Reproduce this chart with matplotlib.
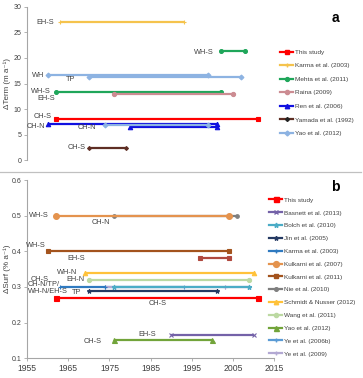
import matplotlib
matplotlib.use("Agg")
import matplotlib.pyplot as plt
from matplotlib.lines import Line2D

plt.rcParams["font.family"] = ["Liberation Sans", "DejaVu Sans"]

# ---------------- Panel a data: (start year, end year, value) ----------------
a_this_study = [(1962, 2011, 8.0)]
a_karma = [(1963, 1993, 27.0)]
a_mehta = [(2002, 2008, 21.3), (1962, 2002, 13.4)]
a_raina = [(1976, 2005, 13.0)]
a_ren = [(1960, 2001, 7.0), (1980, 2001, 6.4)]
a_yamada = [(1970, 1979, 2.4)]
a_yao = [(1960, 1999, 16.6), (1970, 2007, 16.3), (1974, 1999, 6.9)]

a_names = ["This study", "Karma et al. (2003)", "Mehta et al. (2011)", "Raina (2009)",
           "Ren et al. (2006)", "Yamada et al. (1992)", "Yao et al. (2012)"]

a_labels = ["EH-S", "WH-S", "WH", "TP", "WH-S", "EH-S", "CH-S", "CH-N", "CH-N", "CH-S"]
a_label_x = [1961.5, 2000.3, 1959.2, 1965.7, 1960.8, 1961.8, 1961.0, 1959.3, 1971.8, 1969.2]
a_label_y = [27.0, 21.0, 16.6, 15.8, 13.4, 12.1, 8.6, 6.6, 6.4, 2.4]

# ---------------- Panel b data ----------------
b_this_study = [(1962, 2011, 0.27)]
b_basnett = [(1990, 2010, 0.165)]
b_bolch = [(1976, 2009, 0.30)]
b_jin = [(1970, 2001, 0.29)]
b_karma = [(1963, 1974, 0.30)]
b_kulkarni07 = [(1962, 2004, 0.50)]
b_kulkarni11 = [(1960, 2004, 0.40)]
b_kulkarni11_eh = [(1997, 2004, 0.38)]
b_nie = [(1976, 2006, 0.50)]
b_schmidt = [(1969, 2010, 0.34)]
b_wang = [(1970, 2009, 0.32)]
b_yao = [(1976, 2000, 0.15)]
b_ye06 = [(1974, 1993, 0.30)]
b_ye09 = [(1974, 2003, 0.30), (2003, 2009, 0.30)]

b_names = ["This study", "Basnett et al. (2013)", "Bolch et al. (2010)", "Jin et al. (2005)",
           "Karma et al. (2003)", "Kulkarni et al. (2007)", "Kulkarni et al. (2011)",
           "Nie et al. (2010)", "Schmidt & Nusser (2012)", "Wang et al. (2011)",
           "Yao et al. (2012)", "Ye et al. (2006b)", "Ye et al. (2009)"]

b_labels = ["WH-S", "CH-N", "WH-S", "EH-S", "WH-N", "CH-S", "EH-N", "CH-N/TP/",
            "WH-N/EH-S", "TP", "CH-S", "EH-S", "CH-S"]
b_label_x = [1960.3, 1973.0, 1959.6, 1966.9, 1967.2, 1958.1, 1968.9, 1955.1,
             1955.3, 1967.0, 1986.8, 1984.1, 1970.9]
b_label_y = [0.50, 0.481, 0.415, 0.380, 0.341, 0.322, 0.321, 0.307,
             0.287, 0.285, 0.253, 0.166, 0.148]
b_label_ha = ["right", "center", "right", "center", "right", "center", "right", "left",
              "left", "center", "center", "center", "center"]

xticks = [1955, 1965, 1975, 1985, 1995, 2005, 2015]

fig = plt.figure(figsize=(3.63, 3.78), dpi=100)
fig.patch.set_facecolor("white")
txtc = "#404040"
spc = "#a6a6a6"
fs = 5.3
legfont = {"family": ["Liberation Sans", "DejaVu Sans"], "size": 4.6}


def draw(ax, segs, color, marker, ms, lw=1.6, mew=0.8, zorder=3):
    for s, e, v in segs:
        ax.plot([s, e], [v, v], color=color, lw=lw, marker=marker, ms=ms,
                mew=mew, mec=color, mfc=color, zorder=zorder, solid_capstyle="butt")


def style(ax):
    for sp in ["top", "right"]:
        ax.spines[sp].set_visible(False)
    ax.spines["left"].set_color(spc)
    ax.spines["bottom"].set_color(spc)
    ax.tick_params(colors=txtc, labelsize=5.0, length=2.2, width=0.6, color=spc, pad=1.8)


# ---------------- Panel a ----------------
axa = fig.add_axes([0.0744, 0.5767, 0.6810, 0.4048])
style(axa)
axa.spines["bottom"].set_visible(False)
axa.set_xlim(1955, 2015)
axa.set_ylim(0, 30)
axa.set_yticks([0, 5, 10, 15, 20, 25, 30])
axa.set_xticks([])
axa.set_ylabel("ΔTerm (m a⁻¹)", fontsize=5.8, color=txtc)
axa.yaxis.set_label_coords(-0.066, 0.5)

a_styles = [
    (a_this_study, "#ff0000", "s", 3.2),
    (a_karma, "#f5c34d", "+", 3.0),
    (a_mehta, "#1fa65a", "o", 2.8),
    (a_raina, "#cc8c92", "o", 3.0),
    (a_ren, "#1010e0", "^", 3.2),
    (a_yamada, "#5e2e24", "D", 2.0),
    (a_yao, "#8db3e2", "D", 2.5),
]
handles_a = []
for (segs, c, m, ms), name in zip(a_styles, a_names):
    draw(axa, segs, c, m, ms)
    mc = "#222222" if name.startswith("Yamada") else c
    handles_a.append(Line2D([0], [0], color=c, lw=1.6, marker=m, ms=ms, mec=mc, mfc=mc))

for t, x, y in zip(a_labels, a_label_x, a_label_y):
    axa.text(x, y, t, fontsize=fs, color=txtc, ha="right" if t != "TP" else "center",
             va="center")
fig.text(335 / 363, 1 - 18 / 378, "a", fontsize=10, fontweight="bold", color="black",
         ha="center", va="center")

fig.legend(handles_a, a_names, loc="upper left", bbox_to_anchor=(0.764, 0.876),
           frameon=False, prop=legfont, handlelength=2.1, handletextpad=0.3,
           labelspacing=1.26, borderaxespad=0, labelcolor=txtc)

# separator line
fig.add_artist(Line2D([0.0, 0.995], [1 - 172 / 378, 1 - 172 / 378],
                      transform=fig.transFigure, color="#c0c0c0", lw=0.9))

# ---------------- Panel b ----------------
axb = fig.add_axes([0.0744, 0.0521, 0.6810, 0.4717])
style(axb)
axb.set_xlim(1955, 2015)
axb.set_ylim(0.1, 0.6)
axb.set_yticks([0.1, 0.2, 0.3, 0.4, 0.5, 0.6])
axb.set_yticklabels(["0.1", "0.2", "0.3", "0.4", "0.5", "0.6"])
axb.set_xticks(xticks)
axb.tick_params(axis="x", labelsize=6.2)
axb.set_ylabel("ΔSurf (% a⁻¹)", fontsize=5.8, color=txtc)
axb.yaxis.set_label_coords(-0.066, 0.5)

b_styles = [
    (b_this_study, "#ff0000", "s", 3.6, 4),
    (b_basnett, "#7462a8", "x", 3.2, 3),
    (b_bolch, "#4bacc6", "*", 3.5, 3),
    (b_jin, "#253a63", "*", 3.2, 3),
    (b_karma, "#2f7ac0", "+", 3.0, 3),
    (b_kulkarni07, "#e4934e", "o", 4.2, 3),
    (b_kulkarni11, "#a3531d", "s", 3.0, 3),
    (b_nie, "#7f7f7f", "o", 2.6, 2),
    (b_schmidt, "#ffc23a", "^", 3.2, 3),
    (b_wang, "#bcd9a2", "o", 3.0, 3),
    (b_yao, "#72a43a", "^", 3.6, 3),
    (b_ye06, "#5b9bd5", "+", 3.0, 2),
    (b_ye09, "#b3a9d3", "+", 3.5, 2),
]
handles_b = []
for (segs, c, m, ms, z), name in zip(b_styles, b_names):
    draw(axb, segs, c, m, ms, zorder=z)
    handles_b.append(Line2D([0], [0], color=c, lw=1.6, marker=m, ms=ms, mec=c, mfc=c))
draw(axb, b_kulkarni11_eh, "#b0483e", "s", 3.0)

for t, x, y, ha in zip(b_labels, b_label_x, b_label_y, b_label_ha):
    axb.text(x, y, t, fontsize=fs, color=txtc, ha=ha, va="center")
fig.text(335 / 363, 1 - 187 / 378, "b", fontsize=10, fontweight="bold", color="black",
         ha="center", va="center")

fig.legend(handles_b, b_names, loc="upper left", bbox_to_anchor=(0.734, 0.485),
           frameon=False, prop=legfont, handlelength=2.1, handletextpad=0.3,
           labelspacing=1.15, borderaxespad=0, labelcolor=txtc)

fig.savefig("out.png", dpi=100, facecolor="white")
